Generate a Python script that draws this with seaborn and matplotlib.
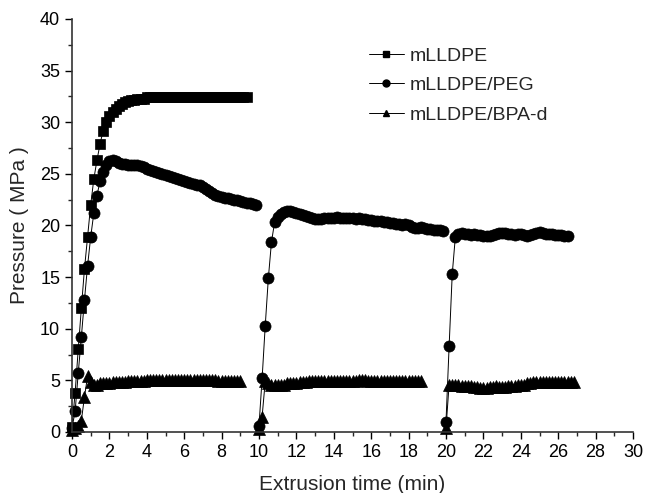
"""
Extrusion pressure vs time for mLLDPE, mLLDPE/PEG and mLLDPE/BPA-d
"""

import numpy as np
import pandas as pd
import matplotlib
matplotlib.use("Agg")
import matplotlib.pyplot as plt
from matplotlib.lines import Line2D
from matplotlib.ticker import MultipleLocator
import seaborn as sns

# ===============================
# Data
# ===============================

SAMPLE_MIN = 10 / 60  # one reading every 10 s

# mLLDPE, single run starting at 0 min
mlldpe_start = [0.0]
mlldpe_run1 = [
    0.5, 3.8, 8.0, 12.0, 15.8, 18.9, 22.0, 24.5, 26.3, 27.9,
    29.2, 30.0, 30.6, 31.0, 31.3, 31.6, 31.8, 32.0, 32.1, 32.2,
    32.2, 32.3, 32.3, 32.3, 32.4, 32.4, 32.4, 32.4, 32.4, 32.4,
    32.4, 32.4, 32.4, 32.4, 32.4, 32.4, 32.4, 32.4, 32.4, 32.4,
    32.4, 32.4, 32.4, 32.4, 32.4, 32.4, 32.4, 32.4, 32.4, 32.4,
    32.4, 32.4, 32.4, 32.4, 32.4, 32.4, 32.4,
]

# mLLDPE/PEG, three runs starting at 0, 10 and 20 min
peg_start = [0.0, 10.0, 20.0]
peg_run1 = [
    0.4, 2.0, 5.7, 9.2, 12.8, 16.1, 18.9, 21.2, 22.9, 24.3,
    25.2, 25.9, 26.2, 26.3, 26.2, 26.1, 26.0, 26.0, 25.9, 25.9,
    25.9, 25.9, 25.8, 25.7, 25.5, 25.4, 25.3, 25.2, 25.1, 25.0,
    24.9, 24.8, 24.7, 24.6, 24.5, 24.4, 24.3, 24.2, 24.1, 24.0,
    23.9, 23.9, 23.7, 23.5, 23.3, 23.1, 23.0, 22.9, 22.8, 22.7,
    22.7, 22.6, 22.5, 22.5, 22.4, 22.3, 22.2, 22.2, 22.1, 22.0,
]
peg_run2 = [
    0.6, 5.2, 10.3, 14.9, 18.4, 20.3, 20.8, 21.1, 21.3, 21.4,
    21.4, 21.3, 21.2, 21.1, 21.0, 20.9, 20.8, 20.7, 20.6, 20.6,
    20.6, 20.7, 20.7, 20.7, 20.7, 20.8, 20.7, 20.7, 20.7, 20.7,
    20.7, 20.6, 20.7, 20.6, 20.6, 20.5, 20.5, 20.4, 20.4, 20.4,
    20.3, 20.3, 20.2, 20.2, 20.1, 20.1, 20.0, 20.1, 20.0, 19.9,
    19.8, 19.8, 19.9, 19.8, 19.7, 19.7, 19.6, 19.6, 19.6, 19.5,
]
peg_run3 = [
    1.0, 8.3, 15.3, 18.9, 19.2, 19.3, 19.2, 19.2, 19.1, 19.2,
    19.1, 19.1, 19.0, 19.0, 19.0, 19.1, 19.2, 19.3, 19.3, 19.3,
    19.2, 19.2, 19.1, 19.2, 19.2, 19.1, 19.0, 19.1, 19.2, 19.3,
    19.4, 19.3, 19.2, 19.2, 19.2, 19.1, 19.1, 19.1, 19.0, 19.0,
]

# mLLDPE/BPA-d, three runs starting at 0, 10 and 20 min
bpa_start = [0.0, 10.0, 20.0]
bpa_run1 = [
    0.2, 0.4, 0.6, 1.1, 3.4, 5.4, 4.8, 4.6, 4.6, 4.7,
    4.7, 4.7, 4.7, 4.8, 4.8, 4.8, 4.8, 4.8, 4.9, 4.9,
    4.9, 4.9, 4.9, 4.9, 5.0, 5.0, 5.0, 5.0, 5.0, 5.0,
    5.0, 5.0, 5.0, 5.0, 5.0, 5.0, 5.0, 5.0, 5.0, 5.0,
    5.0, 5.0, 5.0, 5.0, 5.0, 5.0, 5.0, 4.9, 4.9, 4.9,
    4.9, 4.9, 4.9, 4.9, 4.9,
]
bpa_run2 = [
    0.3, 1.5, 4.9, 4.7, 4.6, 4.6, 4.6, 4.6, 4.6, 4.7,
    4.7, 4.7, 4.7, 4.8, 4.8, 4.8, 4.9, 4.9, 4.9, 4.9,
    4.9, 4.9, 4.9, 4.9, 4.9, 4.9, 4.9, 4.9, 4.9, 4.9,
    4.9, 4.9, 5.0, 5.0, 5.0, 4.9, 4.9, 4.9, 4.9, 4.9,
    4.9, 4.9, 4.9, 4.9, 4.9, 4.9, 4.9, 4.9, 4.9, 4.9,
    4.9, 4.9, 4.9,
]
bpa_run3 = [
    0.4, 4.6, 4.6, 4.6, 4.6, 4.5, 4.5, 4.5, 4.5, 4.4,
    4.4, 4.3, 4.3, 4.3, 4.4, 4.4, 4.5, 4.4, 4.4, 4.4,
    4.5, 4.5, 4.5, 4.6, 4.6, 4.6, 4.7, 4.7, 4.8, 4.8,
    4.8, 4.8, 4.8, 4.8, 4.8, 4.8, 4.8, 4.8, 4.8, 4.8,
    4.8, 4.8,
]

x_ticks = list(range(0, 31, 2))
y_ticks = list(range(0, 41, 5))

# ===============================
# Build long table
# ===============================

samples = {
    "mLLDPE": (mlldpe_start, [mlldpe_run1], "s", 7),
    "mLLDPE/PEG": (peg_start, [peg_run1, peg_run2, peg_run3], "o", 8),
    "mLLDPE/BPA-d": (bpa_start, [bpa_run1, bpa_run2, bpa_run3], "^", 8),
}

rows = []
for name, (starts, runs, _, _) in samples.items():
    for run_no, (t0, vals) in enumerate(zip(starts, runs)):
        for i, v in enumerate(vals):
            rows.append({"sample": name, "run": run_no,
                         "time": t0 + i * SAMPLE_MIN, "pressure": v})
df = pd.DataFrame(rows)

# ===============================
# Plot
# ===============================

sns.set_style("ticks")
plt.rcParams["font.family"] = ["Liberation Sans", "DejaVu Sans"]

fig = plt.figure(figsize=(6.45, 4.93), dpi=100)
ax = fig.add_axes([72 / 645, 1 - 432 / 493, 561 / 645, 413 / 493])

for name, (_, _, mk, ms) in samples.items():
    sub = df[df["sample"] == name]
    sns.lineplot(data=sub, x="time", y="pressure", units="run", estimator=None,
                 sort=False, color="black", linewidth=0.7, marker=mk,
                 markersize=ms, markeredgecolor="black", markeredgewidth=0.5,
                 ax=ax, clip_on=False)

ax.set_xlim(0, 30)
ax.set_ylim(0, 40)
ax.set_xticks(x_ticks)
ax.set_yticks(y_ticks)
ax.xaxis.set_minor_locator(MultipleLocator(1))
ax.yaxis.set_minor_locator(MultipleLocator(2.5))
ax.tick_params(which="major", direction="out", length=5, width=1,
               labelsize=13, colors="black")
ax.tick_params(which="minor", direction="out", length=3, width=1)
sns.despine(ax=ax)
for sp in ("left", "bottom"):
    ax.spines[sp].set_color("#333333")
    ax.spines[sp].set_linewidth(1.2)

ax.set_xlabel("Extrusion time (min)", fontsize=15, labelpad=10)
ax.set_ylabel("Pressure ( MPa )", fontsize=15, labelpad=8)

handles = [Line2D([], [], color="black", linewidth=0.7, marker=mk, markersize=ms - 3)
           for _, (_, _, mk, ms) in samples.items()]
ax.legend(handles, list(samples.keys()), loc="upper left", frameon=False,
          bbox_to_anchor=(369 / 645, 1 - 47 / 493), bbox_transform=fig.transFigure,
          fontsize=14, handlelength=1.8, handletextpad=0.3, labelspacing=0.62,
          borderpad=0, borderaxespad=0)

fig.savefig("out.png", dpi=100)
